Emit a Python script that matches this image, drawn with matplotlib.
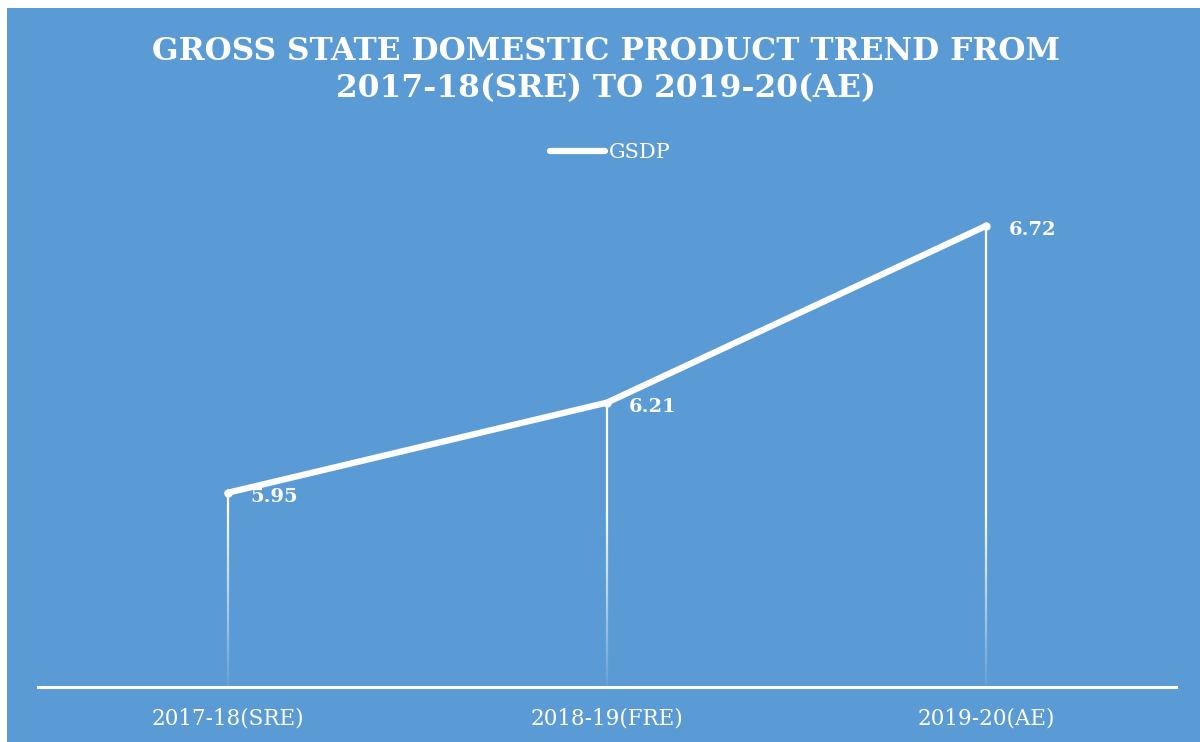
import numpy as np
import matplotlib.pyplot as plt
from matplotlib.collections import LineCollection
from matplotlib.patches import Rectangle

# data
years = ['2017-18(SRE)', '2018-19(FRE)', '2019-20(AE)']
gsdp = [5.95, 6.21, 6.72]

BG = '#5B9BD5'
SERIF = ['DejaVu Serif']

fig = plt.figure(figsize=(12, 7.42), dpi=100)
fig.patch.set_facecolor('white')
# blue chart area (slightly inset at top-left like the original)
fig.patches.append(Rectangle((7 / 1200, 0), 1 - 7 / 1200, 1 - 8 / 742,
                             transform=fig.transFigure, facecolor=BG,
                             edgecolor='none', zorder=-10))

ax = fig.add_axes([38 / 1200, 55 / 742, 1138 / 1200, 489 / 742])
ax.set_zorder(1)
ax.set_facecolor('none')
x = np.arange(len(years))
ax.set_xlim(-0.5, len(years) - 0.5)
ax.set_ylim(5.39, 6.80)

# drop lines that fade toward the axis
y0 = ax.get_ylim()[0]
for xi, yi in zip(x, gsdp):
    ys = np.linspace(y0, yi, 120)
    segs = [[(xi, ys[k]), (xi, ys[k + 1])] for k in range(len(ys) - 1)]
    mid = (ys[:-1] + ys[1:]) / 2
    alphas = np.interp(mid, [y0, 5.9], [0.05, 1.0])
    cols = [(1, 1, 1, a) for a in alphas]
    ax.add_collection(LineCollection(segs, colors=cols, linewidths=1.6, zorder=2))

ax.plot(x, gsdp, color='white', lw=4.5, solid_capstyle='round', label='GSDP', zorder=3)
ax.plot(x, gsdp, 'o', color='white', markersize=5, zorder=3)

for xi, yi in zip(x, gsdp):
    ax.annotate(f'{yi:.2f}', (xi, yi), xytext=(16, -3), textcoords='offset points',
                ha='left', va='center', color='white', fontsize=14,
                fontweight='bold', family=SERIF)

ax.axhline(y0, color='white', lw=2.2, zorder=4, clip_on=False)
for s in ax.spines.values():
    s.set_visible(False)
ax.set_yticks([])
ax.set_xticks(x)
ax.set_xticklabels(years, family=SERIF, fontsize=15.5, color='white')
ax.tick_params(axis='x', length=0, pad=15)

leg = ax.legend(loc='upper center', bbox_to_anchor=(0.503, 1.15), frameon=False,
                prop={'family': SERIF, 'size': 15}, handlelength=2.6,
                handletextpad=0.2, labelcolor='white')

fig.text(0.505, 0.905, 'GROSS STATE DOMESTIC PRODUCT TREND FROM\n2017-18(SRE) TO 2019-20(AE)',
         ha='center', va='center', color='white', fontsize=22.5, fontweight='bold',
         family=SERIF, linespacing=1.25)

fig.savefig('out.png', dpi=100, facecolor=fig.get_facecolor())
